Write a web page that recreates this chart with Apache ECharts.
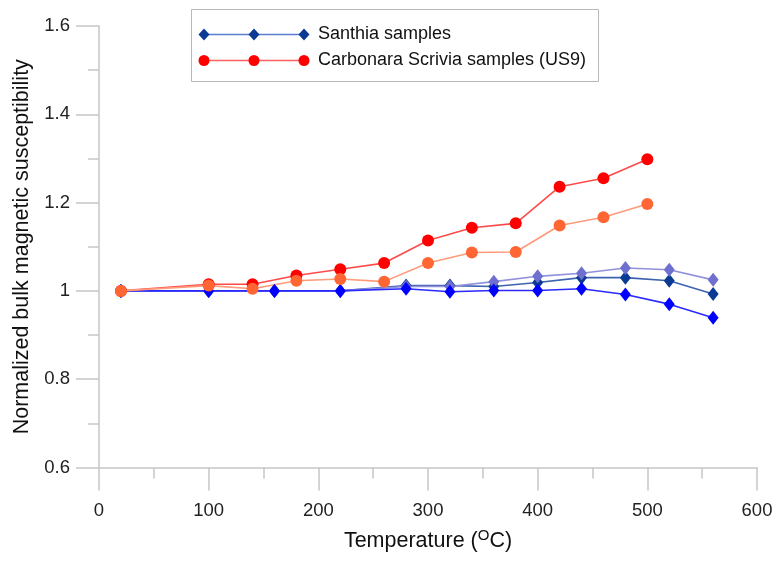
<!DOCTYPE html>
<html><head><meta charset="utf-8">
<script src="https://cdn.jsdelivr.net/npm/echarts@6/dist/echarts.min.js"></script>
<style>html,body{margin:0;padding:0;background:#fff}#c{width:777px;height:561px}</style>
</head><body><div id="c"></div>
<script>
const santhiaT = [20,100,160,220,280,320,360,400,440,480,520,560];
const santhiaDark = [1.0,1.0,1.0,1.0,1.012,1.012,1.010,1.019,1.030,1.030,1.023,0.993];
const santhiaLight = [1.0,1.0,1.0,1.0,1.010,1.010,1.021,1.033,1.040,1.052,1.048,1.025];
const santhiaBright = [1.0,1.0,1.0,1.0,1.005,0.998,1.001,1.001,1.005,0.992,0.970,0.939];
const carbT = [20,100,140,180,220,260,300,340,380,420,460,500];
const carbRed = [1.0,1.015,1.015,1.035,1.049,1.063,1.114,1.143,1.153,1.236,1.255,1.298];
const carbOrange = [1.0,1.012,1.005,1.023,1.027,1.021,1.063,1.087,1.088,1.148,1.167,1.197];
const xTicks = [0,100,200,300,400,500,600];
const yTicks = [0.6,0.8,1.0,1.2,1.4,1.6];
const legendNames = ['Santhia samples','Carbonara Scrivia samples (US9)'];

const pair = (xs, ys) => xs.map((x,i)=>[x, ys[i]]);
const FONT = 'Liberation Sans, Arial, sans-serif';
const axisGrey = '#c6c6c6';

function mk(name, xs, ys, symbol, size, mcol, lcol){
  return {name, type:'line', data: pair(xs, ys), symbol, symbolSize: size,
    itemStyle:{color:mcol}, lineStyle:{color:lcol, width:1.6}, emphasis:{disabled:true}, animation:false, z:2};
}

const chart = echarts.init(document.getElementById('c'));
chart.setOption({
  backgroundColor:'#fff',
  animation:false,
  grid:{left:99, right:20, top:26, bottom:93.5},
  xAxis:{type:'value', min:xTicks[0], max:xTicks[xTicks.length-1], interval:100,
    name:'Temperature ({sup|O}C)', nameLocation:'middle', nameGap:61,
    nameTextStyle:{fontFamily:FONT, fontSize:21.5, color:'#111', rich:{sup:{fontSize:15, fontFamily:FONT, color:'#111', verticalAlign:'top', padding:[0,0,10,0]}}},
    axisLine:{show:true, onZero:false, lineStyle:{color:axisGrey, width:1.5}},
    axisTick:{show:true, inside:false, length:23, lineStyle:{color:axisGrey, width:1.5}},
    minorTick:{show:true, splitNumber:2, length:11, lineStyle:{color:axisGrey, width:1.5}},
    splitLine:{show:false},
    axisLabel:{fontFamily:FONT, fontSize:18.5, color:'#222', margin:34}
  },
  yAxis:{type:'value', min:yTicks[0], max:yTicks[yTicks.length-1], interval:0.2,
    name:'Normalized bulk magnetic susceptibility', nameLocation:'middle', nameGap:57,
    nameTextStyle:{fontFamily:FONT, fontSize:21.5, color:'#111'},
    axisLine:{show:true, onZero:false, lineStyle:{color:axisGrey, width:1.5}},
    axisTick:{show:true, inside:false, length:23, lineStyle:{color:axisGrey, width:1.5}},
    minorTick:{show:true, splitNumber:2, length:11, lineStyle:{color:axisGrey, width:1.5}},
    splitLine:{show:false},
    axisLabel:{fontFamily:FONT, fontSize:18.5, color:'#222', margin:29,
      formatter: v => String(Math.round(v*10)/10)}
  },
  series:[
    mk('Santhia dark', santhiaT, santhiaDark, 'diamond', [11,14], '#0b3a94', '#3d62b0'),
    mk('Santhia light', santhiaT, santhiaLight, 'diamond', [11,14], '#6f6fcf', '#9191dd'),
    mk('Santhia bright', santhiaT, santhiaBright, 'diamond', [11,14], '#0000ff', '#2a2aff'),
    mk('Carbonara red', carbT, carbRed, 'circle', 12, '#ff0000', '#ff4a4a'),
    mk('Carbonara orange', carbT, carbOrange, 'circle', 12, '#ff6633', '#ff9a7a')
  ],
  graphic:[
    {type:'rect', shape:{x:191.5, y:9.5, width:407, height:72}, style:{fill:'#fff', stroke:'#b8b8b8', lineWidth:1}, z:10},
    {type:'line', shape:{x1:204, y1:34.5, x2:304, y2:34.5}, style:{stroke:'#5a7dcc', lineWidth:1.6}, z:11},
    {type:'line', shape:{x1:204, y1:60.5, x2:304, y2:60.5}, style:{stroke:'#ff6161', lineWidth:1.6}, z:11},
    ...[204,254,304].map(x=>({type:'polygon', shape:{points:[[x,28.5],[x+5.5,34.5],[x,40.5],[x-5.5,34.5]]}, style:{fill:'#0b3a94'}, z:12})),
    ...[204,254,304].map(x=>({type:'circle', shape:{cx:x, cy:60.5, r:5.5}, style:{fill:'#ff0000'}, z:12})),
    {type:'text', x:318, y:34.5, style:{text:legendNames[0], font:'18px '+FONT, fill:'#111', textVerticalAlign:'middle'}, z:12},
    {type:'text', x:318, y:60.5, style:{text:legendNames[1], font:'18px '+FONT, fill:'#111', textVerticalAlign:'middle'}, z:12}
  ]
});
</script></body></html>
